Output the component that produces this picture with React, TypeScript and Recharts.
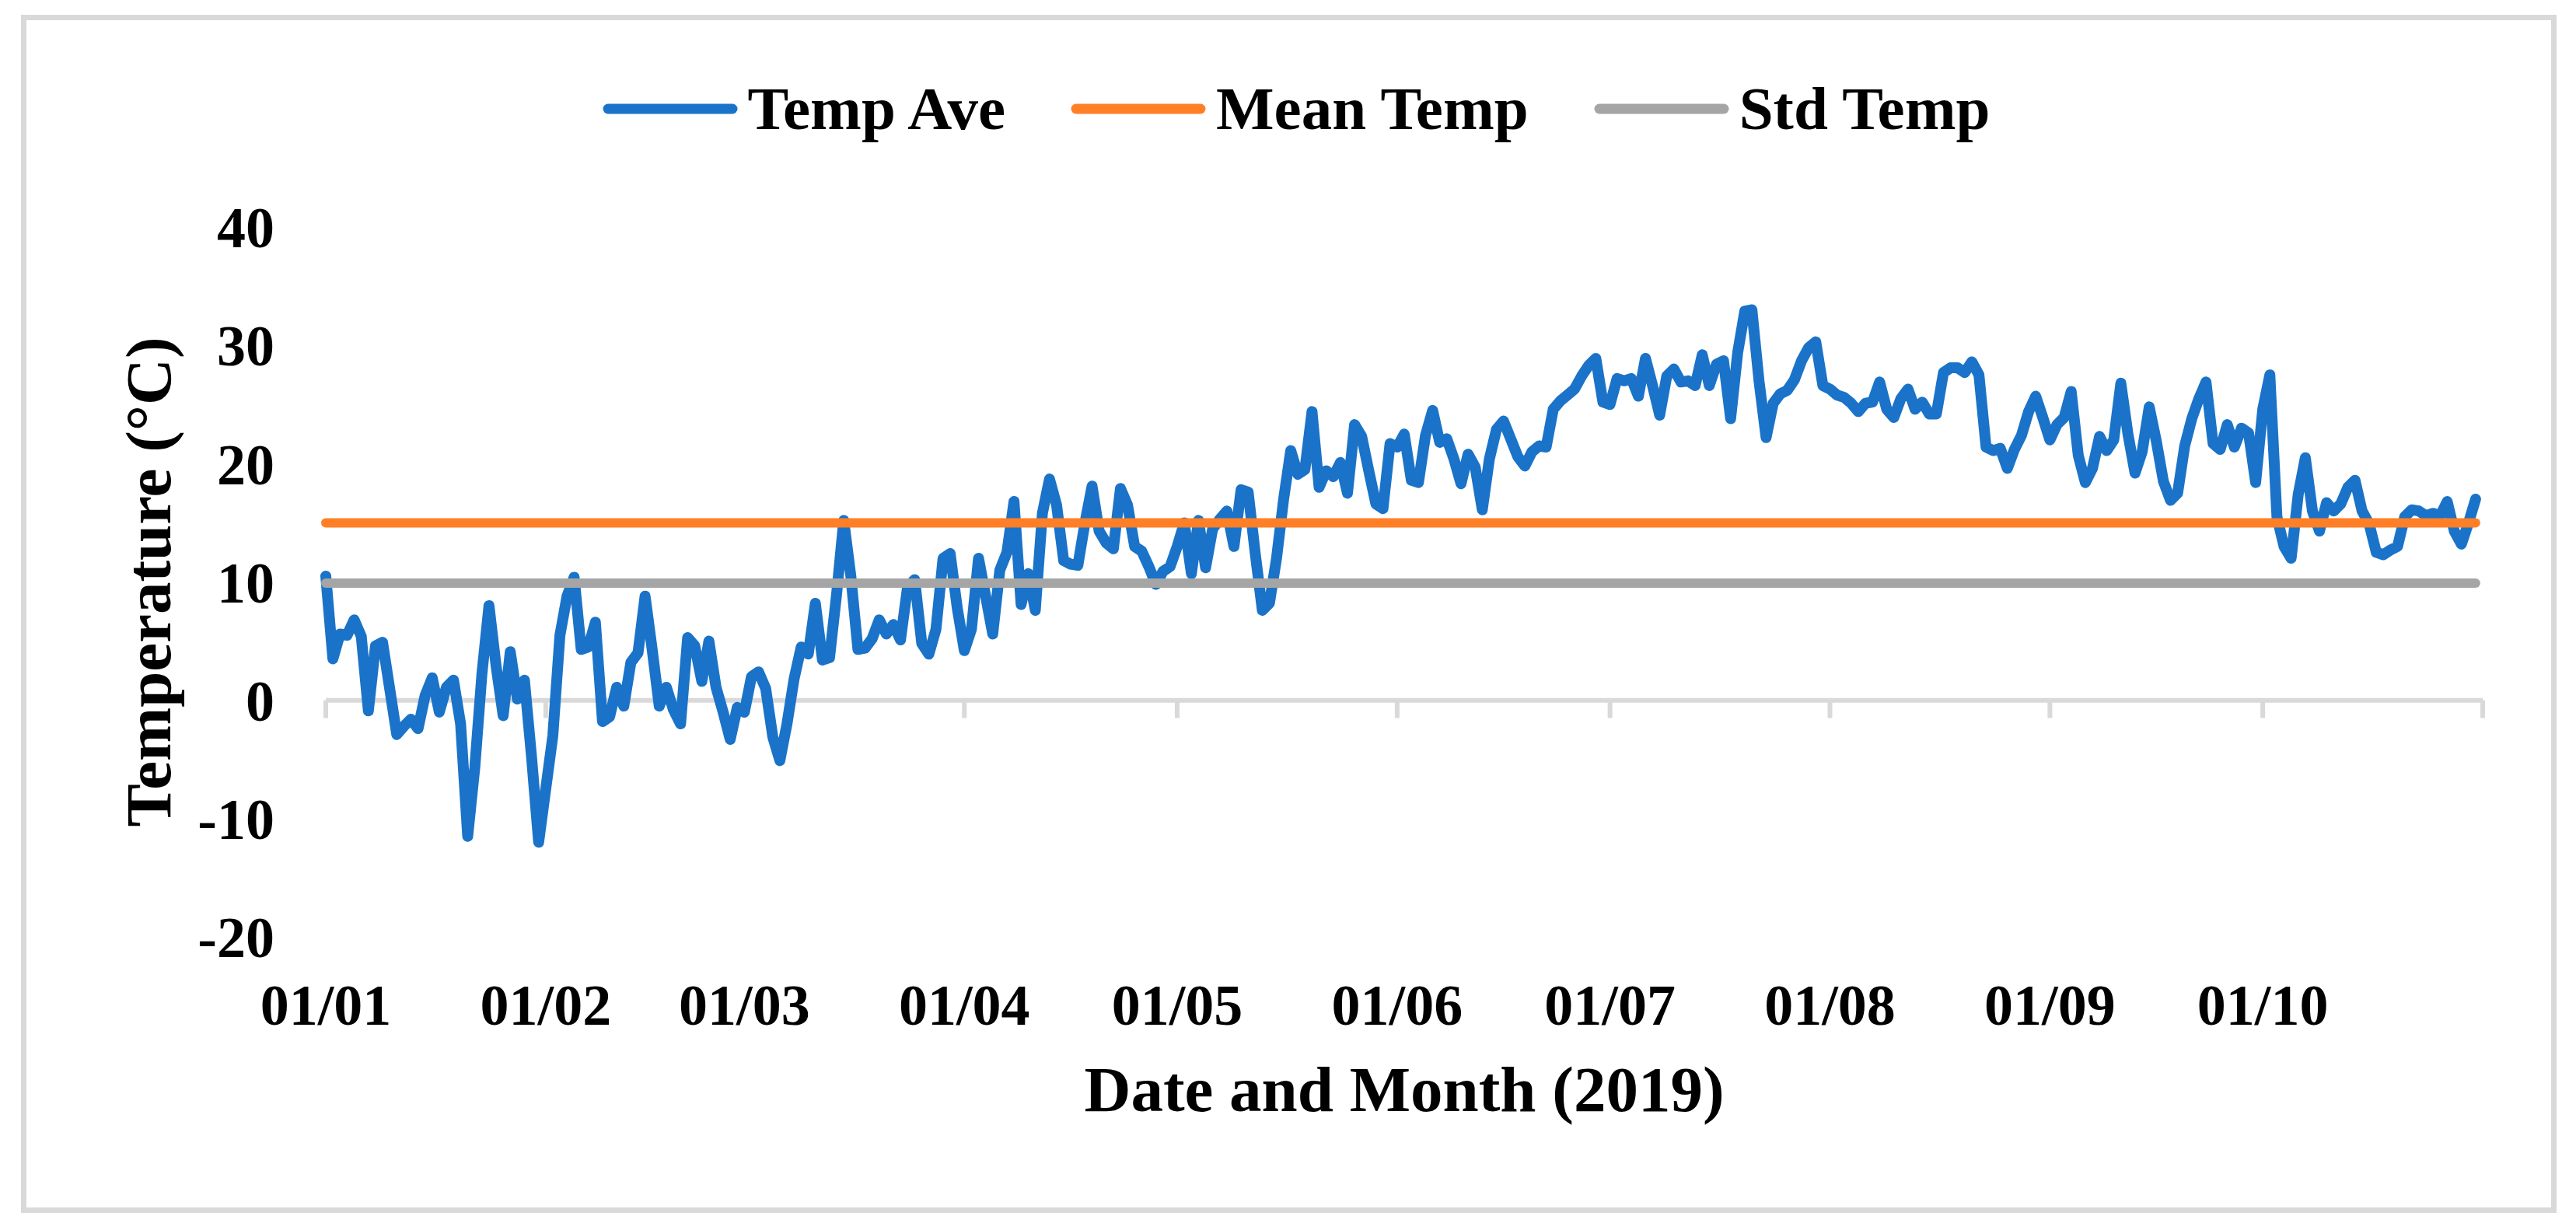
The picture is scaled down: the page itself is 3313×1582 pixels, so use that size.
import {
  LineChart,
  Line,
  XAxis,
  YAxis,
  Legend,
  ReferenceLine,
} from "recharts";

// daily average temperature, 01/01 .. 31/10 (2019)
const tempAve = [
  10.5, 3.5, 5.6, 5.5, 6.8, 5.4, -0.9, 4.6, 4.9, 1.0,
  -2.9, -2.2, -1.6, -2.4, 0.4, 1.9, -1.0, 1.1, 1.7, -2.0,
  -11.5, -5.7, 2.2, 8.0, 2.9, -1.3, 4.1, 0.1, 1.7, -4.8,
  -12.0, -7.5, -3.0, 5.5, 8.8, 10.4, 4.3, 4.5, 6.6, -1.8,
  -1.4, 1.1, -0.5, 3.2, 4.0, 8.8, 4.3, -0.5, 1.1, -0.8,
  -2.0, 5.3, 4.6, 1.6, 5.0, 1.1, -1.0, -3.3, -0.6, -1.0,
  2.0, 2.4, 1.0, -3.1, -5.1, -2.0, 1.8, 4.5, 3.9, 8.2,
  3.4, 3.6, 9.0, 15.2, 10.5, 4.3, 4.4, 5.2, 6.8, 5.6,
  6.4, 5.1, 9.6, 10.2, 4.8, 3.9, 6.0, 12.0, 12.4, 7.8,
  4.2, 6.0, 12.0, 8.8, 5.6, 11.0, 12.5, 16.8, 8.1, 10.7,
  7.6, 15.8, 18.7, 16.5, 11.8, 11.5, 11.4, 15.0, 18.1, 14.3,
  13.3, 12.8, 17.9, 16.5, 13.0, 12.6, 11.3, 9.8, 10.9, 11.3,
  13.0, 15.0, 10.7, 15.2, 11.2, 14.5, 15.3, 16.0, 13.0, 17.8,
  17.6, 12.4, 7.6, 8.2, 12.0, 17.0, 21.1, 19.1, 19.5, 24.4,
  18.0, 19.4, 18.9, 20.1, 17.5, 23.3, 22.3, 19.4, 16.6, 16.2,
  21.7, 21.4, 22.5, 18.6, 18.4, 22.4, 24.5, 21.8, 22.1, 20.4,
  18.3, 20.8, 19.7, 16.1, 20.4, 22.9, 23.6, 22.1, 20.6, 19.8,
  21.0, 21.5, 21.4, 24.6, 25.3, 25.8, 26.3, 27.4, 28.3, 28.9,
  25.2, 25.0, 27.2, 27.0, 27.2, 25.7, 28.9, 26.6, 24.1, 27.4,
  28.0, 26.9, 27.0, 26.6, 29.2, 26.6, 28.4, 28.7, 23.8, 29.4,
  32.9, 33.0, 27.0, 22.2, 25.1, 25.9, 26.2, 27.1, 28.7, 29.8,
  30.3, 26.6, 26.3, 25.8, 25.6, 25.1, 24.4, 25.1, 25.2, 26.9,
  24.6, 23.9, 25.5, 26.3, 24.6, 25.2, 24.2, 24.2, 27.7, 28.1,
  28.1, 27.7, 28.6, 27.5, 21.4, 21.1, 21.3, 19.6, 21.2, 22.4,
  24.4, 25.7, 23.9, 22.0, 23.3, 23.9, 26.1, 20.7, 18.4, 19.6,
  22.3, 21.1, 22.0, 26.8, 22.5, 19.2, 21.0, 24.8, 21.9, 18.5,
  16.9, 17.5, 21.5, 23.8, 25.5, 26.9, 21.7, 21.2, 23.3, 21.4,
  23.0, 22.6, 18.4, 24.6, 27.5, 15.5, 13.0, 12.0, 17.4, 20.5,
  16.0, 14.3, 16.7, 16.0, 16.6, 18.0, 18.6, 16.0, 14.9, 12.5,
  12.3, 12.7, 13.0, 15.5, 16.1, 16.0, 15.6, 15.8, 15.6, 16.8,
  14.3, 13.2, 15.0, 17.0,
];

const meanTemp = 15.0;
const stdTemp = 9.9;

const seriesNames = ["Temp Ave", "Mean Temp", "Std Temp"];

// day index of each month start, plus the end of the axis
const monthTicks = [0, 31, 59, 90, 120, 151, 181, 212, 243, 273, 304];
const monthLabels = [
  "01/01", "01/02", "01/03", "01/04", "01/05",
  "01/06", "01/07", "01/08", "01/09", "01/10", "",
];
const yTicks = [-20, -10, 0, 10, 20, 30, 40];

const data = tempAve.map((t, i) => ({
  day: i,
  temp: t,
  mean: meanTemp,
  std: stdTemp,
}));

const FONT = "'Liberation Serif', 'Times New Roman', serif";

const renderLegend = (props: any) => {
  const payload = [...(props.payload || [])].sort(
    (a: any, b: any) => seriesNames.indexOf(a.value) - seriesNames.indexOf(b.value)
  );
  return (
    <div
      style={{
        display: "flex",
        justifyContent: "center",
        alignItems: "center",
        columnGap: 84,
        height: 100,
        paddingLeft: 21,
        fontFamily: FONT,
      }}
    >
      {payload.map((entry: any) => (
        <div key={entry.value} style={{ display: "flex", alignItems: "center" }}>
          <svg width={174} height={20}>
            <line
              x1={7}
              y1={10}
              x2={167}
              y2={10}
              stroke={entry.color}
              strokeWidth={13}
              strokeLinecap="round"
            />
          </svg>
          <span
            style={{
              marginLeft: 13,
              fontSize: 79,
              fontWeight: "bold",
              color: "#000",
              lineHeight: "100px",
            }}
          >
            {entry.value}
          </span>
        </div>
      ))}
    </div>
  );
};

const tickStyle = { fontSize: 74, fontWeight: "bold", fill: "#000", fontFamily: FONT };
const titleStyle = { fontSize: 83, fontWeight: "bold", fill: "#000", fontFamily: FONT };

export default function App() {
  return (
    <div style={{ position: "absolute", left: 0, top: 0, width: 3313, height: 1582, background: "#fff" }}>
      <div
        style={{
          position: "absolute",
          left: 27,
          top: 19,
          width: 3261,
          height: 1541,
          boxSizing: "border-box",
          border: "7px solid #d9d9d9",
        }}
      />
      <div style={{ position: "absolute", left: 0, top: 0 }}>
        <LineChart
          width={3313}
          height={1582}
          data={data}
          margin={{ top: 292, right: 120, left: 0, bottom: 0 }}
        >
          <XAxis
            type="number"
            dataKey="day"
            domain={[0, 304]}
            ticks={monthTicks}
            tickFormatter={(v: number) => monthLabels[monthTicks.indexOf(v)]}
            interval={0}
            height={377}
            axisLine={false}
            tickLine={false}
            tickSize={0}
            tickMargin={60}
            tick={tickStyle}
            label={{
              value: "Date and Month (2019)",
              position: "insideBottom",
              offset: 153,
              style: titleStyle,
            }}
          />
          <YAxis
            type="number"
            domain={[-20, 40]}
            ticks={yTicks}
            interval={0}
            width={419}
            axisLine={false}
            tickLine={false}
            tickSize={0}
            tickMargin={66}
            tick={tickStyle}
            label={{
              value: "Temperature (°C)",
              angle: -90,
              position: "insideLeft",
              offset: 190,
              style: { ...titleStyle, textAnchor: "middle" },
            }}
          />
          <ReferenceLine y={0} stroke="#d9d9d9" strokeWidth={6} />
          {monthTicks.map((d) => (
            <ReferenceLine
              key={`tick-${d}`}
              segment={[
                { x: d, y: 0 },
                { x: d, y: -1.5 },
              ]}
              stroke="#d9d9d9"
              strokeWidth={6}
            />
          ))}
          <Legend
            layout="vertical"
            align="center"
            verticalAlign="middle"
            wrapperStyle={{ top: 90, left: 0, width: 3313, height: 100 }}
            content={renderLegend}
          />
          <Line
            type="linear"
            dataKey="temp"
            name={seriesNames[0]}
            stroke="#1a73c8"
            strokeWidth={14}
            strokeLinecap="round"
            strokeLinejoin="round"
            dot={false}
            isAnimationActive={false}
          />
          <Line
            type="linear"
            dataKey="mean"
            name={seriesNames[1]}
            stroke="#ff7f27"
            strokeWidth={12}
            strokeLinecap="round"
            dot={false}
            isAnimationActive={false}
          />
          <Line
            type="linear"
            dataKey="std"
            name={seriesNames[2]}
            stroke="#a5a5a5"
            strokeWidth={12}
            strokeLinecap="round"
            dot={false}
            isAnimationActive={false}
          />
        </LineChart>
      </div>
    </div>
  );
}
